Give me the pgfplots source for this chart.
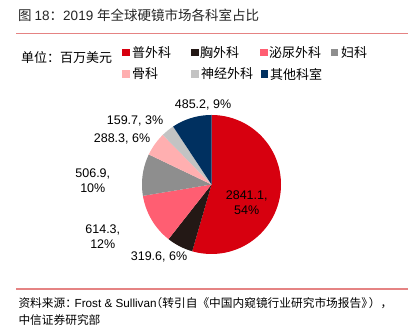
\documentclass[border=0pt]{standalone}
\usepackage{pgfplots}
\pgfplotsset{compat=1.18}
\usepackage{fontspec}
\setmainfont{Liberation Sans}
\newfontfamily\cjk{Noto Sans CJK SC}
\newcommand\zh[1]{{\cjk #1}}
\definecolor{cGen}{HTML}{D7000F}
\definecolor{cThor}{HTML}{231815}
\definecolor{cUro}{HTML}{FF5E72}
\definecolor{cGyn}{HTML}{8E8E8E}
\definecolor{cOrth}{HTML}{FFAFB0}
\definecolor{cNeuro}{HTML}{C3C3C3}
\definecolor{cOther}{HTML}{003060}
\definecolor{cLine}{HTML}{E58383}
\newcommand\total{5215.1}
\newcommand\cx{211.5}
\newcommand\cy{-184.5}
\newcommand\rr{69.5}
% start value colour
\newcommand\pieslice[3]{%
  \pgfmathsetmacro\angA{90-#1/\total*360}%
  \pgfmathsetmacro\angB{90-(#1+#2)/\total*360}%
  \edef\doslice{\noexpand\addplot[draw=none,fill=#3,domain=\angB:\angA,samples=90,variable=\noexpand\t] ({\cx+\rr*cos(\noexpand\t)},{\cy+\rr*sin(\noexpand\t)}) -- (axis cs:\cx,\cy) -- cycle;}%
  \doslice}
\newcommand\legitem[5]{%
  \node[inner sep=0] at (axis cs:#1,#2) {\textcolor{#3}{\rule{7.5pt}{7.5pt}}};
  \node[anchor=west, inner sep=0] at (axis cs:#4,#2) {\fontsize{13}{15}\selectfont\zh{#5}};}
\begin{document}
\begin{tikzpicture}
\begin{axis}[scale only axis, width=420pt, height=331pt,
  xmin=0, xmax=420, ymin=-331, ymax=0, hide axis, clip=false]
\path (rel axis cs:0,0) rectangle (rel axis cs:1,1);
\pieslice{0}{2841.1}{cGen}
\pieslice{2841.1}{319.6}{cThor}
\pieslice{3160.7}{614.3}{cUro}
\pieslice{3775.0}{506.9}{cGyn}
\pieslice{4281.9}{288.3}{cOrth}
\pieslice{4570.2}{159.7}{cNeuro}
\pieslice{4729.9}{485.2}{cOther}
% title
\node[anchor=west, inner sep=0, text=black!85] at (axis cs:18,-15.3) {\fontsize{13.5}{16}\selectfont\zh{图 }18\zh{：}2019 \zh{年全球硬镜市场各科室占比}};
\draw[cLine, line width=1.3pt] (axis cs:16,-33.3) -- (axis cs:408,-33.3);
\draw[cLine, line width=1.1pt] (axis cs:16,-289) -- (axis cs:408,-289);
% unit
\node[anchor=west, inner sep=0] at (axis cs:21,-58) {\fontsize{13}{15}\selectfont\zh{单位：百万美元}};
% legend
\legitem{126}{-52.5}{cGen}{132}{普外科}
\legitem{195}{-52.5}{cThor}{200}{胸外科}
\legitem{264}{-52.5}{cUro}{269}{泌尿外科}
\legitem{334.5}{-52.5}{cGyn}{341}{妇科}
\legitem{126}{-74}{cOrth}{132}{骨科}
\legitem{195}{-74}{cNeuro}{201}{神经外科}
\legitem{264.5}{-74}{cOther}{270}{其他科室}
% data labels
\begin{scope}[every node/.style={inner sep=0, align=center, font=\fontsize{12.5}{15}\selectfont}]
\node at (axis cs:203,-105) {485.2, 9\%};
\node at (axis cs:135,-120.7) {159.7, 3\%};
\node at (axis cs:122,-139) {288.3, 6\%};
\node at (axis cs:92.8,-180.5) {506.9,\\10\%};
\node at (axis cs:102.8,-237) {614.3,\\12\%};
\node at (axis cs:159,-256.7) {319.6, 6\%};
\node at (axis cs:246.7,-203) {2841.1,\\54\%};
\end{scope}
% source
\node[anchor=west, inner sep=0] at (axis cs:18.3,-303) {\fontsize{11.7}{14}\selectfont\zh{资料来源：}\hspace{-0.2em}Frost \& Sullivan\hspace{-0.5em}\zh{（转引自《中国内窥镜行业研究市场报告》}\hspace{-0.35em}\zh{），}};
\node[anchor=west, inner sep=0] at (axis cs:18.3,-320.5) {\fontsize{11.7}{14}\selectfont\zh{中信证券研究部}};
\end{axis}
\end{tikzpicture}
\end{document}
